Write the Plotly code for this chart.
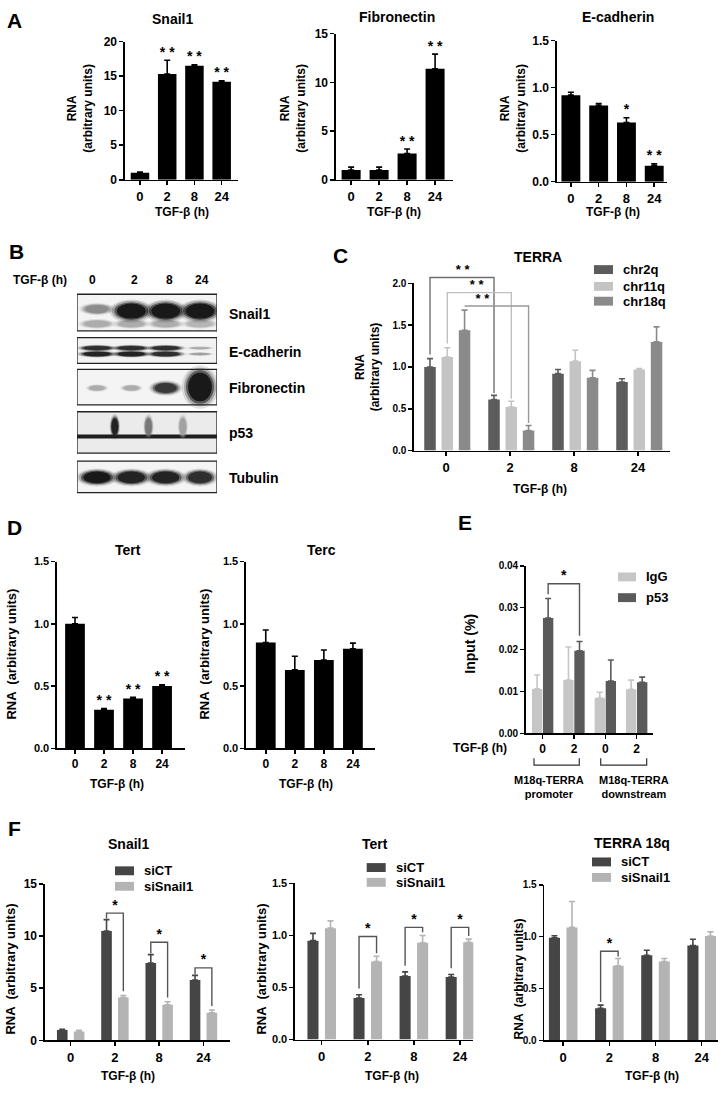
import plotly.graph_objects as go

W, H = 723, 1094
FONT = "Liberation Sans, Arial, Helvetica, sans-serif"

# ------------------------------------------------------------------ data
times = ["0", "2", "8", "24"]

# A
a_snail1 = [1.0, 15.3, 16.5, 14.2]
a_snail1_err = [0.1, 2.0, 0.15, 0.12]
a_snail1_sig = ["", "* *", "* *", "* *"]
a_fibro = [1.0, 1.0, 2.7, 11.4]
a_fibro_err = [0.3, 0.3, 0.45, 1.5]
a_fibro_sig = ["", "", "* *", "* *"]
a_ecad = [0.92, 0.81, 0.63, 0.17]
a_ecad_err = [0.03, 0.02, 0.05, 0.02]
a_ecad_sig = ["", "", "*", "* *"]

# B  western blot band intensities per lane (0 = none, 1 = saturated)
b_proteins = ["Snail1", "E-cadherin", "Fibronectin", "p53", "Tubulin"]
b_snail1 = [0.45, 1.0, 1.0, 1.0]
b_snail1_lower = [0.3, 0.3, 0.3, 0.25]
b_ecad_upper = [0.9, 0.9, 0.9, 0.3]
b_ecad_lower = [0.95, 0.95, 0.9, 0.35]
b_fibro = [0.3, 0.3, 0.85, 1.0]
b_p53 = [1.0, 1.0, 1.0, 1.0]
b_p53_spot_lane = [0.52, 1.5, 2.5]
b_p53_spot = [0.95, 0.55, 0.35]
b_tubulin = [1.0, 0.95, 0.95, 0.9]

# C
c_series = ["chr2q", "chr11q", "chr18q"]
c_chr2q = [1.0, 0.61, 0.92, 0.82]
c_chr2q_err = [0.1, 0.05, 0.05, 0.04]
c_chr11q = [1.12, 0.52, 1.07, 0.97]
c_chr11q_err = [0.11, 0.07, 0.13, 0.01]
c_chr18q = [1.44, 0.24, 0.87, 1.30]
c_chr18q_err = [0.24, 0.06, 0.09, 0.18]

# D
d_tert = [1.0, 0.31, 0.40, 0.50]
d_tert_err = [0.05, 0.01, 0.01, 0.01]
d_tert_sig = ["", "* *", "* *", "* *"]
d_terc = [0.85, 0.63, 0.71, 0.80]
d_terc_err = [0.10, 0.11, 0.08, 0.045]

# E
e_ticks = ["0", "2", "0", "2"]
e_series = ["IgG", "p53"]
e_igg = [0.0106, 0.0127, 0.0084, 0.0105]
e_igg_err = [0.0033, 0.0079, 0.0014, 0.0022]
e_p53 = [0.0275, 0.0197, 0.0125, 0.0122]
e_p53_err = [0.0047, 0.0022, 0.005, 0.0012]
e_regions = ["M18q-TERRA<br>promoter", "M18q-TERRA<br>downstream"]

# F
f_series = ["siCT", "siSnail1"]
f_snail1_ct = [1.0, 10.48, 7.42, 5.78]
f_snail1_ct_err = [0.05, 1.1, 0.8, 0.45]
f_snail1_si = [0.85, 4.1, 3.4, 2.65]
f_snail1_si_err = [0.12, 0.2, 0.3, 0.25]
f_tert_ct = [0.95, 0.40, 0.61, 0.60]
f_tert_ct_err = [0.07, 0.03, 0.04, 0.025]
f_tert_si = [1.07, 0.75, 0.93, 0.935]
f_tert_si_err = [0.07, 0.05, 0.07, 0.03]
f_terra_ct = [0.99, 0.31, 0.82, 0.915]
f_terra_ct_err = [0.02, 0.03, 0.05, 0.06]
f_terra_si = [1.09, 0.72, 0.76, 1.007]
f_terra_si_err = [0.25, 0.07, 0.03, 0.04]

# ------------------------------------------------------------------ helpers
fig = go.Figure()
layout = {}
annotations = []
shapes = []


def xd(a, b):
    return [a / W, b / W]


def yd(top, bottom):
    return [1 - bottom / H, 1 - top / H]


def px_x(v):
    return v / W


def px_y(v):
    return 1 - v / H


def ids(n):
    return ("x" if n == 1 else f"x{n}", "y" if n == 1 else f"y{n}",
            "xaxis" if n == 1 else f"xaxis{n}", "yaxis" if n == 1 else f"yaxis{n}")


def panel(n, xpx, ypx, xr, yr, dtick, fmt, ticktext, yfont=11, xfont=13):
    xr_, yr_, xk, yk = ids(n)
    layout[xk] = dict(domain=xd(*xpx), range=xr, anchor=yr_, showline=True,
                      linecolor="black", linewidth=1.6, ticks="outside", ticklen=4,
                      tickwidth=1.5, tickcolor="black", tickvals=[0, 1, 2, 3],
                      ticktext=ticktext, showgrid=False, zeroline=False,
                      tickfont=dict(size=xfont, family=FONT, color="black", weight="bold"),
                      fixedrange=True)
    layout[yk] = dict(domain=yd(*ypx), range=yr, anchor=xr_, showline=True,
                      linecolor="black", linewidth=1.6, ticks="outside", ticklen=4,
                      tickwidth=1.5, tickcolor="black", tick0=0, dtick=dtick,
                      tickformat=fmt, showgrid=False, zeroline=False,
                      tickfont=dict(size=yfont, family=FONT, color="black", weight="bold"),
                      fixedrange=True)


def bars(n, vals, errs, color, off=0.0, width=0.68, errcolor=None):
    xr_, yr_, _, _ = ids(n)
    fig.add_trace(go.Bar(
        x=[i + off for i in range(len(vals))], y=vals, width=width,
        marker=dict(color=color, line=dict(width=0)),
        error_y=dict(type="data", array=errs, arrayminus=[0] * len(errs),
                     symmetric=False, color=errcolor or color, thickness=1.6, width=3),
        xaxis=xr_, yaxis=yr_, showlegend=False, hoverinfo="skip"))


def stars(n, vals, errs, sig, off=0.0, size=14):
    xr_, yr_, _, _ = ids(n)
    fig.add_trace(go.Scatter(
        x=[i + off for i in range(len(vals))], y=[v + e for v, e in zip(vals, errs)],
        text=sig, mode="text", textposition="top center",
        textfont=dict(size=size, family=FONT, color="black", weight="bold"),
        xaxis=xr_, yaxis=yr_, showlegend=False, hoverinfo="skip", cliponaxis=False))


def bracket(n, xl, xr, yl, ytop, yr, color, star="*", starx=None, size=14):
    xr_, yr_, _, _ = ids(n)
    fig.add_trace(go.Scatter(
        x=[xl, xl, xr, xr], y=[yl, ytop, ytop, yr], mode="lines",
        line=dict(color=color, width=1.4), xaxis=xr_, yaxis=yr_,
        showlegend=False, hoverinfo="skip", cliponaxis=False))
    sx = (xl + xr) / 2 if starx is None else starx
    fig.add_trace(go.Scatter(
        x=[sx], y=[ytop], text=[star], mode="text", textposition="top center",
        textfont=dict(size=size, family=FONT, color="black", weight="bold"),
        xaxis=xr_, yaxis=yr_, showlegend=False, hoverinfo="skip", cliponaxis=False))


def ann(text, x, y, size=13, weight="bold", xanchor="center", angle=0, yanchor="middle"):
    annotations.append(dict(text=text, x=px_x(x), y=px_y(y), xref="paper", yref="paper",
                            showarrow=False, xanchor=xanchor, yanchor=yanchor,
                            textangle=angle,
                            font=dict(size=size, family=FONT, color="black", weight=weight)))


def legend_box(x0, x1, yc, color, label, h=9, size=13):
    shapes.append(dict(type="rect", xref="paper", yref="paper",
                       x0=px_x(x0), x1=px_x(x1), y0=px_y(yc + h / 2), y1=px_y(yc - h / 2),
                       fillcolor=color, line=dict(width=0)))
    ann(label, x1 + 8, yc, size=size, xanchor="left")


# ------------------------------------------------------------------ A
panel(1, (125, 238), (35, 175), [-0.55, 3.6], [0, 20], 5, "d", times, 12, 13)
bars(1, a_snail1, a_snail1_err, "black")
stars(1, a_snail1, a_snail1_err, a_snail1_sig)
panel(2, (336, 453), (27, 175), [-0.54, 3.64], [0, 15], 5, "d", times, 12, 13)
bars(2, a_fibro, a_fibro_err, "black")
stars(2, a_fibro, a_fibro_err, a_fibro_sig)
panel(3, (557, 667), (34, 177), [-0.5, 3.46], [0, 1.5], 0.5, ".1f", times, 12, 13)
bars(3, a_ecad, a_ecad_err, "black")
stars(3, a_ecad, a_ecad_err, a_ecad_sig)

ann("A", 14, 14, size=21)
ann("Snail1", 172, 12, size=14)
ann("Fibronectin", 397, 10, size=14)
ann("E-cadherin", 618, 10, size=14)
for xc in (80, 293, 513):
    ann("RNA<br>(arbitrary units)", xc, 103, size=12, angle=-90)
for xc in (182, 394, 613):
    ann("TGF-β (h)", xc, 208, size=12)

# ------------------------------------------------------------------ B (blot)
bx0, bx1 = 77, 217
lane_px = [97 + i * (200 - 97) / 3 for i in range(4)]
layout["xaxis11"] = dict(domain=xd(bx0, bx1), range=[bx0, bx1], visible=False,
                         anchor="y11", fixedrange=True)
layout["yaxis11"] = dict(domain=yd(285, 495), range=[495, 285], visible=False,
                         anchor="x11", fixedrange=True)
fig.add_trace(go.Scatter(x=[bx0, bx1], y=[300, 300], mode="markers",
                         marker=dict(opacity=0), xaxis="x11", yaxis="y11",
                         showlegend=False, hoverinfo="skip"))

boxes = [(291, 328), (335, 361), (367, 403), (410, 452), (460, 492)]
box_fill = ["#f4f4f4", "#f2f2f2", "#f4f4f4", "#ebebeb", "#f4f4f4"]
for (t, b), fc in zip(boxes, box_fill):
    shapes.append(dict(type="rect", xref="x11", yref="y11", x0=bx0, x1=bx1, y0=t, y1=b,
                       fillcolor=fc, line=dict(width=0), layer="below"))

SOFT = ((1.3, 0.12), (1.15, 0.25), (1.0, 0.55), (0.85, 1.0))


def band(xc, yc, rx, ry, inten, layers=SOFT):
    g = int(235 - 210 * inten)
    col = f"rgb({g},{g},{g})"
    for sc, op in layers:
        shapes.append(dict(type="circle", xref="x11", yref="y11",
                           x0=xc - rx * sc, x1=xc + rx * sc,
                           y0=yc - ry * sc, y1=yc + ry * sc,
                           fillcolor=col, opacity=op, line=dict(width=0)))


for i, v in enumerate(b_snail1_lower):
    band(lane_px[i], 321, 15, 4, v)
for i, v in enumerate(b_snail1):
    band(lane_px[i], 308 if i else 306, 17 if i else 14, 9 if i else 5, v)
for i, v in enumerate(b_ecad_upper):
    band(lane_px[i], 345.5, 16 if i < 3 else 11, 2.6 if i < 3 else 1.4, v)
for i, v in enumerate(b_ecad_lower):
    band(lane_px[i], 351.5, 16 if i < 3 else 11, 2.8 if i < 3 else 1.4, v)
fib_rx = [9, 9, 13, 14]
fib_ry = [3, 3, 6, 17]
for i, v in enumerate(b_fibro):
    band(lane_px[i], 386 if i < 3 else 385, fib_rx[i], fib_ry[i], v)
# p53: continuous band + smears
shapes.append(dict(type="rect", xref="x11", yref="y11", x0=bx0, x1=bx1, y0=433, y1=437,
                   fillcolor="rgb(30,30,30)", line=dict(width=0)))
for ln, v in zip(b_p53_spot_lane, b_p53_spot):
    band(97 + ln * (200 - 97) / 3, 425, 4, 10, v)
for i, v in enumerate(b_tubulin):
    band(lane_px[i], 476.5, 16 if i < 3 else 14, 7, v)

for (t, b) in boxes:
    shapes.append(dict(type="rect", xref="x11", yref="y11", x0=bx0, x1=bx1, y0=t, y1=b,
                       fillcolor="rgba(0,0,0,0)", line=dict(width=1.3, color="#222")))

ann("B", 16, 248, size=21)
ann("TGF-β (h)", 40, 277, size=12)
for i, t in enumerate(times):
    ann(t, [93, 134, 169, 202][i], 277, size=12)
for (t, b), name in zip(boxes, b_proteins):
    ann(name, 227, (t + b) / 2 + 1, size=14, xanchor="left")

# ------------------------------------------------------------------ C
C_TOP, C_BOT = 280, 449.3
panel(4, (414, 670), (C_TOP, C_BOT), [-0.5, 3.5], [0, 2], 0.5, ".1f", times, 10, 13)
# hidden companion axes with the same scale but taller domain (for brackets above 2.0)
EXT_TOP = 245
layout["xaxis12"] = dict(domain=xd(414, 670), range=[-0.5, 3.5], visible=False,
                         anchor="y12", fixedrange=True)
layout["yaxis12"] = dict(domain=yd(EXT_TOP, C_BOT),
                         range=[0, 2 * (C_BOT - EXT_TOP) / (C_BOT - C_TOP)],
                         visible=False, anchor="x12", fixedrange=True)
c_vals = [c_chr2q, c_chr11q, c_chr18q]
c_errs = [c_chr2q_err, c_chr11q_err, c_chr18q_err]
c_cols = ["#5c5c5c", "#c4c4c4", "#8a8a8a"]
c_br_cols = ["#6e6e6e", "#c0c0c0", "#999999"]
c_offs = [-0.25, 0.02, 0.29]
for v, e, c, o in zip(c_vals, c_errs, c_cols, c_offs):
    bars(4, v, e, c, off=o, width=0.18)
c_levels = [2.07, 1.89, 1.73]
c_starx = [0.26, 0.48, 0.57]
for v, e, c, o, lv, sx in zip(c_vals, c_errs, c_br_cols, c_offs, c_levels, c_starx):
    bracket(12, o, 1 + o, v[0] + e[0] + 0.05, lv, v[1] + e[1] + 0.03, c,
            star="* *", starx=sx, size=13)
ann("C", 340, 252, size=21)
ann("TERRA", 538, 253, size=14)
ann("RNA<br>(arbitrary units)", 368, 365, size=12, angle=-90)
ann("TGF-β (h)", 540, 488, size=12)
for c, name, yc in zip(c_cols, c_series, (266, 283, 298)):
    legend_box(594, 613, yc, c, name)

# ------------------------------------------------------------------ D
panel(5, (57, 185), (561.7, 751), [-0.62, 3.79], [0, 1.5], 0.5, ".1f", times, 11, 12)
bars(5, d_tert, d_tert_err, "black")
stars(5, d_tert, d_tert_err, d_tert_sig)
panel(6, (246, 375), (561.7, 751), [-0.68, 3.76], [0, 1.5], 0.5, ".1f", times, 11, 12)
bars(6, d_terc, d_terc_err, "black")
ann("D", 14, 527, size=21)
ann("Tert", 128, 550, size=14)
ann("Terc", 321, 550, size=14)
ann("RNA  (arbitrary units)", 12, 656, size=13, angle=-90)
ann("RNA  (arbitrary units)", 205, 656, size=13, angle=-90)
ann("TGF-β (h)", 117, 787, size=12)
ann("TGF-β (h)", 306, 787, size=12)

# ------------------------------------------------------------------ E
panel(7, (525.7, 653.3), (566, 735.7), [-0.54, 3.53], [0, 0.04], 0.01, ".2f", e_ticks, 10, 12)
bars(7, e_igg, e_igg_err, "#c6c6c6", off=-0.176, width=0.33)
bars(7, e_p53, e_p53_err, "#5a5a5a", off=0.176, width=0.33)
bracket(7, 0.176, 1.176, e_p53[0] + e_p53_err[0] + 0.001, 0.0357,
        e_p53[1] + e_p53_err[1] + 0.0014, "#555555", star="*", size=14)
ann("E", 465, 522, size=21)
ann("Input (%)", 470, 645, size=14, angle=-90)
ann("TGF-β (h)", 480, 751, size=12)
legend_box(618, 636, 577.3, "#c6c6c6", "IgG")
legend_box(618, 636, 598.3, "#5a5a5a", "p53")
for (x0, x1), txt, tx in zip(((534, 579.3), (600.7, 646.7)), e_regions, (549, 634)):
    shapes.append(dict(type="path", xref="paper", yref="paper",
                       path=f"M {px_x(x0)},{px_y(761)} L {px_x(x0)},{px_y(768)} "
                            f"L {px_x(x1)},{px_y(768)} L {px_x(x1)},{px_y(761)}",
                       line=dict(color="#333", width=1.2)))
    ann(txt, tx, 790, size=11)

# ------------------------------------------------------------------ F
f_cols = ["#454545", "#b4b4b4"]
f_off = 0.19
f_w = 0.24

panel(8, (45, 230), (888.3, 1046.7), [-0.58, 3.6], [0, 15], 5, "d", times, 12, 13)
bars(8, f_snail1_ct, f_snail1_ct_err, f_cols[0], off=-f_off, width=f_w)
bars(8, f_snail1_si, f_snail1_si_err, f_cols[1], off=f_off, width=f_w)
for g, top in zip((1, 2, 3), (12.2, 9.4, 6.95)):
    bracket(8, g - f_off, g + f_off, f_snail1_ct[g] + f_snail1_ct_err[g] + 0.1, top,
            f_snail1_si[g] + f_snail1_si_err[g] + 0.4, "#555555", star="*")

panel(9, (295, 473.3), (887.7, 1046), [-0.58, 3.29], [0, 1.5], 0.5, ".1f", times, 11, 13)
bars(9, f_tert_ct, f_tert_ct_err, f_cols[0], off=-f_off, width=f_w)
bars(9, f_tert_si, f_tert_si_err, f_cols[1], off=f_off, width=f_w)
for g, top in zip((1, 2, 3), (0.99, 1.077, 1.077)):
    bracket(9, g - f_off, g + f_off, f_tert_ct[g] + f_tert_ct_err[g] + 0.06, top,
            f_tert_si[g] + f_tert_si_err[g] + 0.03, "#555555", star="*")

panel(10, (544.3, 718.3), (889.3, 1046.7), [-0.41, 3.36], [0, 1.5], 0.5, ".1f", times, 10, 13)
bars(10, f_terra_ct, f_terra_ct_err, f_cols[0], off=-f_off, width=f_w)
bars(10, f_terra_si, f_terra_si_err, f_cols[1], off=f_off, width=f_w)
bracket(10, 1 - f_off, 1 + f_off, f_terra_ct[1] + f_terra_ct_err[1] + 0.03, 0.86,
        f_terra_si[1] + f_terra_si_err[1] + 0.02, "#555555", star="*")

ann("F", 14, 832, size=21)
ann("Snail1", 128, 848, size=14)
ann("Tert", 375, 848, size=14)
ann("TERRA 18q", 632, 847, size=14)
ann("RNA  (arbitrary units)", 11, 975, size=13, angle=-90)
ann("RNA  (arbitrary units)", 262, 975, size=13, angle=-90)
ann("RNA  (arbitrary units)", 519, 985, size=12, angle=-90)
ann("TGF-β (h)", 128, 1083, size=12)
ann("TGF-β (h)", 392, 1083, size=12)
ann("TGF-β (h)", 652, 1083, size=12)
for x0, ys in ((115, (875, 890.7)), (366.7, (871.7, 886.7)), (592, (866, 881.7))):
    for c, name, yc in zip(f_cols, f_series, ys):
        legend_box(x0, x0 + 19, yc, c, name)

# ------------------------------------------------------------------ layout
fig.update_layout(
    width=W, height=H, margin=dict(l=0, r=0, t=0, b=0),
    paper_bgcolor="white", plot_bgcolor="rgba(0,0,0,0)",
    barmode="overlay", showlegend=False,
    font=dict(family=FONT, color="black", size=12, weight="bold"),
    annotations=annotations, shapes=shapes, **layout)

fig.write_html("out.html", config={"displayModeBar": False, "staticPlot": True},
               post_script="document.body.style.margin='0px';"
                           "document.body.style.overflow='hidden';")
